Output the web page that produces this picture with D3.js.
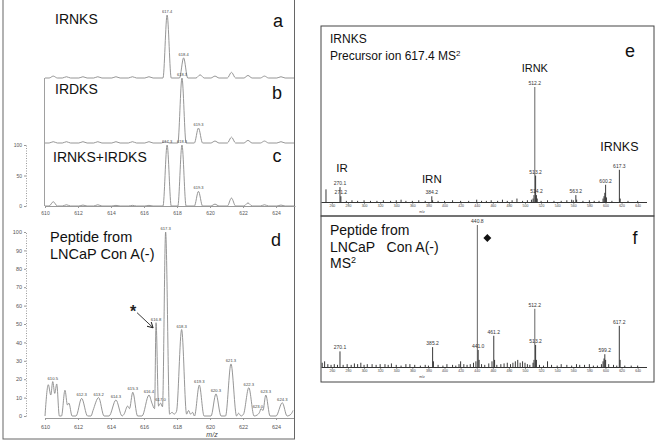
<!DOCTYPE html>
<html>
<head>
<meta charset="utf-8">
<script src="https://cdn.jsdelivr.net/npm/d3@7"></script>
<style>
body { margin: 0; background: #fff; }
svg { display: block; }
text { font-family: "Liberation Sans", Arial, sans-serif; }
</style>
</head>
<body>
<div id="chart"></div>
<script>
// ---- tick labels ----
var mzTicksLeft = [610, 612, 614, 616, 618, 620, 622, 624];
var pctTicksC = [0, 50, 100];
var pctTicksD = [0, 10, 20, 30, 40, 50, 60, 70, 80, 90, 100];
var mzTicksRight = [260, 280, 300, 320, 340, 360, 380, 400, 420, 440, 460, 480, 500, 520, 540, 560, 580, 600, 620, 640];

// ---- MS1 spectra, [m/z, relative intensity] of each peak ----
var peaksA = [[610.5, 3], [611.3, 2], [612.3, 2], [613.2, 2], [614.3, 2], [615.3, 2], [616.3, 2],
  [617.4, 100], [618.4, 32], [619.4, 5], [620.3, 3], [621.3, 9], [622.3, 4], [623.3, 3], [624.3, 2]];
var peaksB = [[610.5, 2], [611.3, 2], [612.3, 2], [613.2, 2], [614.3, 2], [615.3, 2], [616.3, 2],
  [617.3, 2], [618.3, 100], [619.3, 23], [620.3, 3], [621.3, 9], [622.3, 4], [623.3, 3], [624.3, 2]];
var peaksC = [[610.5, 7], [611.3, 2], [612.3, 1.5], [613.2, 2], [614.3, 1], [615.3, 1], [616.3, 1],
  [617.4, 100], [618.3, 100], [619.3, 24], [620.3, 3], [621.3, 13], [622.3, 5], [623.3, 2], [624.3, 1.5]];
// panel d profile: peak tops and valleys
var traceD = [[610, 0], [610.2, 17], [610.35, 11.4], [610.47, 18.7], [610.59, 12.3], [610.71, 17.4], [610.87, 0],
  [611.0, 0], [611.21, 14], [611.36, 6], [611.45, 7], [611.64, 0], [611.88, 0], [612.22, 9.6], [612.58, 0],
  [612.79, 0], [612.91, 3], [613.25, 10], [613.58, 0], [613.88, 0], [614.3, 8.7], [614.67, 0],
  [614.79, 1], [615.01, 5.4], [615.12, 4], [615.32, 12.9], [615.61, 0], [615.88, 0], [616.3, 11.4],
  [616.48, 7], [616.64, 4], [616.73, 50.7], [616.88, 5.4], [617.0, 7], [617.12, 5], [617.31, 100],
  [617.55, 1], [617.7, 2], [617.82, 1], [617.97, 2.5], [618.28, 47], [618.58, 1], [618.7, 3], [618.82, 1],
  [618.94, 2], [619.06, 0], [619.35, 16.8], [619.64, 0], [620.06, 0], [620.36, 12], [620.67, 0],
  [620.94, 0], [621.27, 28.3], [621.61, 0], [621.73, 1.5], [621.88, 0], [622.03, 1], [622.35, 15.4],
  [622.67, 0], [622.85, 0.5], [623.0, 2], [623.09, 4], [623.21, 3], [623.38, 11.4], [623.64, 0],
  [624.0, 0], [624.38, 7.2], [624.67, 0], [624.91, 1], [625.03, 3]];

// peak labels: [m/z, intensity, text]
var labelsA = [[617.4, 100, "617.4"], [618.4, 32, "618.4"]];
var labelsB = [[618.3, 100, "618.3"], [619.3, 23, "619.3"]];
var labelsC = [[617.4, 100, "617.3"], [618.3, 100, "618.3"], [619.3, 24, "619.3"]];
var labelsD = [[610.47, 18.7, "610.5"], [612.22, 9.6, "612.3"], [613.25, 10, "613.2"], [614.3, 8.7, "614.3"],
  [615.32, 12.9, "615.3"], [616.3, 11.4, "616.4"], [616.73, 50.7, "616.8"], [617.0, 7, "617.0"],
  [617.31, 100, "617.3"], [618.28, 47, "618.3"], [619.35, 16.8, "619.3"], [620.36, 12, "620.3"],
  [621.27, 28.3, "621.3"], [622.35, 15.4, "622.3"], [622.9, 3, "623.0"], [623.38, 11.4, "623.3"],
  [624.38, 7.2, "624.3"]];

// ---- MS2 spectra (sticks), [m/z, relative intensity] ----
var peaksE = [[252.7, 11], [270.1, 13], [271.2, 5], [278, 1], [285, 1.5], [292, 1], [300, 1.5], [308, 1],
  [316, 1], [324, 1.5], [333, 1], [340, 1.5], [346, 2], [352, 1], [360, 1], [368, 1.5], [376, 1],
  [384.2, 5], [385.2, 1.5], [392, 1], [400, 1], [410, 1.5], [420, 1], [430, 1], [440, 2], [446, 1],
  [452, 1], [458, 1.5], [466, 1], [472, 2], [478, 1], [484, 1.5], [490, 3], [497, 1], [503, 1.5],
  [508, 2], [510, 3], [511.2, 6], [512.2, 100], [513.2, 23], [514.2, 6], [515.2, 3], [520, 1],
  [528, 1.5], [536, 1], [545, 1], [552, 1.5], [558, 2], [560, 1.5], [563.2, 6], [564.2, 2], [572, 1],
  [580, 1.5], [586, 1], [592, 1], [597, 3], [598.2, 5], [599.2, 8], [600.2, 15], [601.2, 4], [608, 1],
  [617.3, 28], [618.3, 3], [628, 1], [640, 1]];
var labelsE = [[512.2, 100, "512.2"], [513.2, 23, "513.2"], [514.2, 6, "514.2"], [563.2, 6, "563.2"],
  [600.2, 15, "600.2"], [617.3, 28, "617.3"], [270.1, 13, "270.1"], [271.2, 5, "271.2"], [384.2, 5, "384.2"]];

var peaksF = [[248, 3], [251, 4], [255, 2], [259, 1.5], [263, 2], [267, 1.5], [270.1, 11], [274, 1.5],
  [279, 2], [284, 1.5], [288, 2.5], [292, 2], [296, 3], [300, 1.5], [304, 2], [310, 2], [315, 1.5],
  [320, 2], [326, 2], [330, 1.5], [334, 2.5], [340, 1.5], [346, 1], [352, 2], [357, 2], [363, 1.5],
  [370, 1], [376, 1.5], [380, 1], [385.2, 14], [386.2, 4], [392, 1.5], [398, 1], [403, 2], [410, 1.5],
  [414, 1], [418, 2], [420, 4], [424, 2], [428, 1.5], [432, 2], [436, 3], [439, 4], [440.8, 100],
  [441.8, 12], [443, 5], [446, 2], [450, 1.5], [455, 2.5], [459, 4], [461.2, 22], [462.2, 5], [465, 1.5],
  [470, 2], [474, 2.5], [478, 3], [482, 2], [485, 3], [488, 4], [491, 5], [494, 3], [497, 4], [500, 3],
  [503, 2], [506, 1.5], [510, 3], [511.2, 5], [512.2, 41], [513.2, 15.5], [514.2, 5], [518, 1.5],
  [523, 1], [528, 4], [533, 1.5], [540, 1], [545, 2], [552, 1.5], [558, 1], [564, 2], [568, 1.5],
  [574, 1.5], [580, 2], [585, 1], [590, 1], [595, 2], [597, 4], [598.2, 6], [599.2, 9], [600.2, 5],
  [604, 2], [610, 1.5], [614, 1], [617.2, 29], [618.2, 5], [624, 1], [632, 1], [640, 1]];
var labelsF = [[440.8, 100, "440.8"], [512.2, 41, "512.2"], [617.2, 29, "617.2"], [461.2, 22, "461.2"],
  [513.2, 15.5, "513.2"], [441.8, 12, "441.0"], [385.2, 14, "385.2"], [270.1, 11, "270.1"], [599.2, 9, "599.2"]];

var svgWidth = 658, svgHeight = 443;
var svg = d3.select('#chart').append('svg')
  .attr('width', svgWidth)
  .attr('height', svgHeight);

// scales
var xL = d3.scaleLinear().domain([610, 625.15]).range([45, 295]);
var yA = d3.scaleLinear().domain([0, 100]).range([78, 15]);
var yB = d3.scaleLinear().domain([0, 100]).range([143, 78]);
var yC = d3.scaleLinear().domain([0, 100]).range([206, 145]);
var yD = d3.scaleLinear().domain([0, 100]).range([416, 232]);
var xR = d3.scaleLinear().domain([246.5, 651]).range([321, 646.5]);
var yE = d3.scaleLinear().domain([0, 100]).range([202, 87]);
var yF = d3.scaleLinear().domain([0, 100]).range([367, 225]);

var traceColor = '#8a8a8a';

svg.append('clipPath').attr('id', 'leftClip')
  .append('rect').attr('x', 3).attr('y', 0).attr('width', 291).attr('height', 439);

// turn a peak list into a profile outline (peak sits on the baseline)
function profile(peaks, w) {
  var pts = [[610, 0]];
  peaks.forEach(function(p) {
    pts.push([p[0] - w, 0], [p[0], p[1]], [p[0] + w, 0]);
  });
  pts.push([625.2, 0]);
  return pts;
}

function drawTrace(pts, y) {
  var line = d3.line()
    .x(d => xL(d[0]))
    .y(d => y(d[1]))
    .curve(d3.curveMonotoneX);
  svg.append('path')
    .attr('d', line(pts))
    .attr('clip-path', 'url(#leftClip)')
    .attr('fill', 'none')
    .attr('stroke', traceColor)
    .attr('stroke-width', 0.9);
}

// peak labels, drawn in a slightly translucent group so the tiny text gets grey antialiasing
function drawLabels(labels, x, y, size, color) {
  svg.append('g')
    .attr('opacity', 0.99)
    .selectAll('text')
    .data(labels)
    .enter()
    .append('text')
    .attr('x', d => x(d[0]))
    .attr('y', d => y(d[1]) - 2)
    .attr('text-anchor', 'middle')
    .attr('font-size', size)
    .attr('fill', color)
    .text(d => d[2]);
}

// left panel frame
svg.append('rect')
  .attr('x', 3).attr('y', -1).attr('width', 291.5).attr('height', 440)
  .attr('fill', 'none').attr('stroke', '#666').attr('stroke-width', 1);
svg.append('line')
  .attr('x1', 44.5).attr('x2', 44.5).attr('y1', 78).attr('y2', 206)
  .attr('stroke', '#888').attr('stroke-width', 0.8);

drawTrace(profile(peaksA, 0.25), yA);
drawTrace(profile(peaksB, 0.25), yB);
drawTrace(profile(peaksC, 0.25), yC);
drawTrace(traceD, yD);

drawLabels(labelsA, xL, yA, '4px', '#444');
drawLabels(labelsB, xL, yB, '4px', '#444');
drawLabels(labelsC, xL, yC, '4px', '#444');
drawLabels(labelsD, xL, yD, '4.2px', '#444');

// axes of c and d
function styleAxis(g, size) {
  g.attr('opacity', 0.99);
  g.selectAll('path').attr('stroke', '#999');
  g.selectAll('line').attr('stroke', '#999');
  g.selectAll('text').attr('fill', '#555').attr('font-size', size)
    .attr('font-family', '"Liberation Sans", Arial, sans-serif');
}

var xAxisC = svg.append('g')
  .attr('transform', 'translate(0,206)')
  .call(d3.axisBottom(xL).tickValues(mzTicksLeft).tickSize(2).tickPadding(3).tickSizeOuter(0));
styleAxis(xAxisC, '5px');

var yAxisC = svg.append('g')
  .attr('transform', 'translate(26,0)')
  .call(d3.axisLeft(yC).tickValues(pctTicksC).tickSize(2).tickPadding(2).tickSizeOuter(0));
styleAxis(yAxisC, '5px');
yAxisC.select('path').attr('stroke-dasharray', '1,1.5');

var xAxisD = svg.append('g')
  .attr('transform', 'translate(0,418)')
  .call(d3.axisBottom(xL).tickValues(mzTicksLeft).tickSize(2).tickPadding(5).tickSizeOuter(0));
styleAxis(xAxisD, '5.5px');
xAxisD.select('path').attr('clip-path', 'url(#leftClip)');

var yAxisD = svg.append('g')
  .attr('transform', 'translate(26,0)')
  .call(d3.axisLeft(yD).tickValues(pctTicksD).tickSize(2).tickPadding(2).tickSizeOuter(0));
styleAxis(yAxisD, '5.5px');
yAxisD.select('path').attr('stroke-dasharray', '1,1.5');

svg.append('text')
  .attr('x', 212).attr('y', 437)
  .attr('text-anchor', 'middle')
  .attr('font-size', '7px').attr('font-style', 'italic').attr('fill', '#444')
  .text('m/z');

// asterisk + arrow pointing to the 616.8 peak
var tipX = xL(616.73) - 3, tipY = yD(50.7) + 5;
svg.append('defs').append('marker')
  .attr('id', 'arrowHead')
  .attr('viewBox', '0 0 10 10').attr('refX', 9).attr('refY', 5)
  .attr('markerWidth', 7).attr('markerHeight', 7)
  .attr('orient', 'auto')
  .append('path').attr('d', 'M0,0 L9,5 L0,10')
  .attr('fill', 'none').attr('stroke', '#222').attr('stroke-width', 1.6);
svg.append('line')
  .attr('x1', tipX - 16).attr('y1', tipY - 15)
  .attr('x2', tipX).attr('y2', tipY)
  .attr('stroke', '#222').attr('stroke-width', 0.9)
  .attr('marker-end', 'url(#arrowHead)');
svg.append('text')
  .attr('x', tipX - 20).attr('y', tipY - 11)
  .attr('text-anchor', 'middle')
  .attr('font-size', '16px').attr('font-weight', 'bold').attr('fill', '#222')
  .text('*');

// left panel titles
var titleFont = '14px';
svg.append('text').attr('x', 55).attr('y', 24).attr('font-size', titleFont).attr('fill', '#111').text('IRNKS');
svg.append('text').attr('x', 55).attr('y', 94).attr('font-size', titleFont).attr('fill', '#111').text('IRDKS');
svg.append('text').attr('x', 53).attr('y', 162).attr('font-size', titleFont).attr('fill', '#111').text('IRNKS+IRDKS');
svg.append('text').attr('x', 50).attr('y', 242).attr('font-size', '14.5px').attr('fill', '#111').text('Peptide from');
svg.append('text').attr('x', 50).attr('y', 259).attr('font-size', '14.5px').attr('fill', '#111').text('LNCaP Con A(-)');

var letters = [['a', 278, 27], ['b', 277, 99], ['c', 277, 162], ['d', 276, 246], ['e', 630, 57], ['f', 635, 244]];
svg.append('g').selectAll('text')
  .data(letters)
  .enter()
  .append('text')
  .attr('x', d => d[1]).attr('y', d => d[2])
  .attr('text-anchor', 'middle')
  .attr('font-family', 'Lato, "Open Sans", sans-serif')
  .attr('font-size', '18px').attr('fill', '#111')
  .text(d => d[0]);

// ---- right panels e and f ----
svg.append('rect')
  .attr('x', 321).attr('y', 26).attr('width', 333).attr('height', 190)
  .attr('fill', 'none').attr('stroke', '#444').attr('stroke-width', 1);
svg.append('rect')
  .attr('x', 321).attr('y', 216).attr('width', 333).attr('height', 166)
  .attr('fill', 'none').attr('stroke', '#444').attr('stroke-width', 1);

function drawSticks(peaks, y) {
  svg.append('g').selectAll('line')
    .data(peaks)
    .enter()
    .append('line')
    .attr('x1', d => xR(d[0])).attr('x2', d => xR(d[0]))
    .attr('y1', y(0)).attr('y2', d => y(d[1]))
    .attr('stroke', d => d[1] > 30 ? '#555' : '#222')
    .attr('stroke-width', 0.9);
}

function drawRightAxis(y, axisY) {
  var g = svg.append('g')
    .attr('opacity', 0.99)
    .attr('transform', 'translate(0,' + axisY + ')')
    .call(d3.axisBottom(xR).tickValues(mzTicksRight).tickSize(1.5).tickPadding(1.5).tickSizeOuter(0));
  g.selectAll('path').attr('stroke', '#333');
  g.selectAll('line').attr('stroke', '#333');
  g.selectAll('text').attr('font-size', '3.5px').attr('fill', '#444')
    .attr('font-family', '"Liberation Sans", Arial, sans-serif');
  svg.append('text')
    .attr('x', 422).attr('y', axisY + 11)
    .attr('text-anchor', 'middle')
    .attr('font-size', '3.5px').attr('fill', '#444')
    .text('m/z');
}

drawSticks(peaksE, yE);
drawRightAxis(yE, 202);
drawLabels(labelsE, xR, yE, '5px', '#333');

drawSticks(peaksF, yF);
drawRightAxis(yF, 367);
drawLabels(labelsF, xR, yF, '5px', '#333');

// e texts
svg.append('text').attr('x', 330).attr('y', 43).attr('font-size', '12px').attr('fill', '#111').text('IRNKS');
var prec = svg.append('text').attr('x', 330).attr('y', 60).attr('font-size', '12px').attr('fill', '#111');
prec.append('tspan').text('Precursor ion 617.4 MS');
prec.append('tspan').attr('dy', -4.5).attr('font-size', '8px').text('2');

var fragments = [['IRNK', 512.2, 72, '11px'], ['IRNKS', 617.3, 151, '12.5px'], ['IR', 270.1, 172, '11.5px'], ['IRN', 384.2, 183, '11.5px']];
svg.append('g').selectAll('text')
  .data(fragments)
  .enter()
  .append('text')
  .attr('x', d => xR(d[1]) + (d[0] === 'IR' ? 2 : 0))
  .attr('y', d => d[2])
  .attr('text-anchor', 'middle')
  .attr('font-family', 'Lato, "Open Sans", sans-serif')
  .attr('font-size', d => d[3]).attr('fill', '#111')
  .text(d => d[0]);

// f texts
svg.append('text').attr('x', 330).attr('y', 235).attr('font-size', '14px').attr('fill', '#111').text('Peptide from');
svg.append('text').attr('x', 330).attr('y', 252).attr('font-size', '14px').attr('fill', '#111')
  .style('white-space', 'pre').text('LNCaP   Con A(-)');
var ms2 = svg.append('text').attr('x', 330).attr('y', 268).attr('font-size', '14px').attr('fill', '#111');
ms2.append('tspan').text('MS');
ms2.append('tspan').attr('dy', -5).attr('font-size', '9px').text('2');

// diamond marker next to the 440.8 peak
svg.append('path')
  .attr('d', d3.symbol().type(d3.symbolDiamond2).size(40)())
  .attr('transform', 'translate(' + (xR(440.8) + 10) + ',238)')
  .attr('fill', '#111');
</script>
</body>
</html>
